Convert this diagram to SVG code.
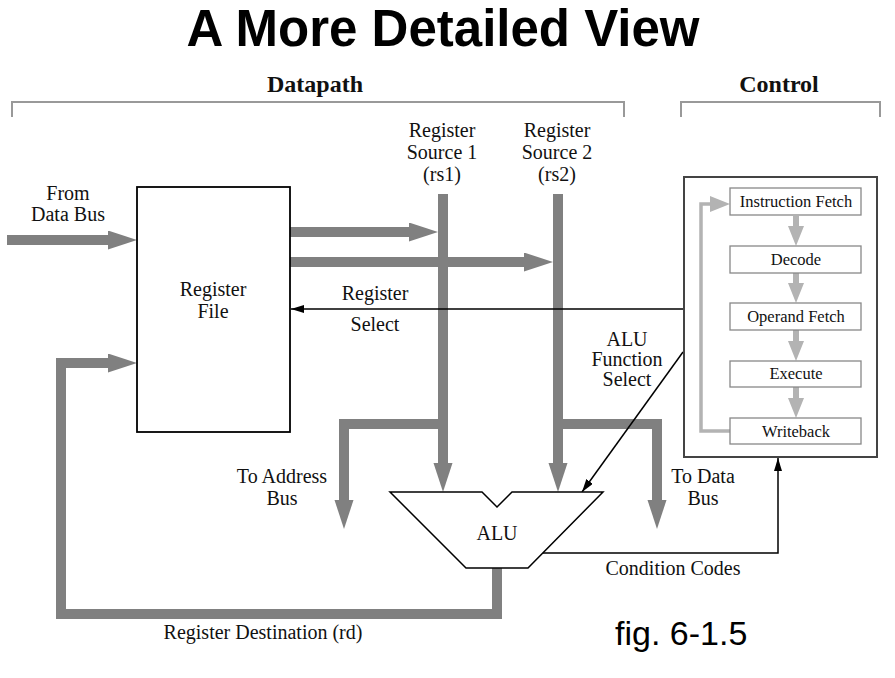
<svg xmlns="http://www.w3.org/2000/svg" width="895" height="678" viewBox="0 0 895 678">
<style>
.t{font-family:"Liberation Serif","Times New Roman",serif;fill:#111;text-anchor:middle;font-size:20px}
.s15{font-size:16.5px}
.hd{font-family:"Liberation Serif","Times New Roman",serif;font-weight:bold;font-size:24px;text-anchor:middle;fill:#111}
.bus{fill:none;stroke:#808080;stroke-width:10;stroke-linejoin:miter}
.thin{fill:none;stroke:#000;stroke-width:1.5}
.lg{fill:none;stroke:#b3b3b3}
.br{fill:none;stroke:#999;stroke-width:2}
.box{fill:#fff;stroke:#888;stroke-width:1.3}
</style>
<defs>
<marker id="bh" markerUnits="userSpaceOnUse" markerWidth="30" markerHeight="20" refX="0" refY="9.5" orient="auto"><path d="M0,0 L29,9.5 L0,19 z" fill="#808080"/></marker>
<marker id="th" markerUnits="userSpaceOnUse" markerWidth="14" markerHeight="9" refX="13" refY="4" orient="auto"><path d="M0,0 L13,4 L0,8 z" fill="#000"/></marker>
<marker id="gh" markerUnits="userSpaceOnUse" markerWidth="22" markerHeight="17" refX="0" refY="8" orient="auto"><path d="M0,0 L20,8 L0,16 z" fill="#b3b3b3"/></marker>
</defs>
<rect width="895" height="678" fill="#fff"/>
<text x="443" y="46" font-family="Liberation Sans,Arial,sans-serif" font-weight="bold" font-size="51" text-anchor="middle" fill="#000">A More Detailed View</text>
<g id="brackets" font-family="Liberation Serif,serif">
<path class="br" d="M12,117 V102 H624 V117"/>
<path class="br" d="M681,117 V102 H880 V117"/>
<text class="hd" x="315" y="92">Datapath</text>
<text class="hd" x="779" y="92">Control</text>
</g>
<g id="connectors">
<path class="bus" d="M7,240 H108" marker-end="url(#bh)"/>
<path class="bus" d="M290,232 H409" marker-end="url(#bh)"/>
<path class="bus" d="M290,262 H524" marker-end="url(#bh)"/>
<path class="bus" d="M497,568 V614 H61 V363 H108" marker-end="url(#bh)"/>
<path class="bus" d="M443,194 V463" marker-end="url(#bh)"/>
<path class="bus" d="M558,194 V463" marker-end="url(#bh)"/>
<path class="bus" d="M443,424 H344 V500" marker-end="url(#bh)"/>
<path class="bus" d="M558,424 H657 V500" marker-end="url(#bh)"/>
<path class="thin" d="M683,309 H291" marker-end="url(#th)"/>
<path class="thin" d="M683,352 L582,492" marker-end="url(#th)"/>
<path class="thin" d="M543,553 H778 V458" marker-end="url(#th)"/>
</g>
<g id="register-file" font-family="Liberation Serif,serif">
<rect x="137" y="187" width="153" height="245" fill="#fff" stroke="#000" stroke-width="1.8"/>
<text class="t" x="213" y="296">Register</text>
<text class="t" x="213" y="318">File</text>
</g>
<g id="alu" font-family="Liberation Serif,serif">
<path d="M390,492 H482 L497,507 L512,492 H603 L528,568 H466 Z" fill="#fff" stroke="#000" stroke-width="1.5"/>
<text class="t" x="497" y="540">ALU</text>
</g>
<g id="control" font-family="Liberation Serif,serif">
<rect x="684" y="177" width="193" height="280" fill="#fff" stroke="#444" stroke-width="2"/>
<path class="lg" stroke-width="3.5" d="M730,431 H701 V204 H710" marker-end="url(#gh)"/>
<path class="lg" stroke-width="6" d="M796,216 V226" marker-end="url(#gh)"/>
<path class="lg" stroke-width="6" d="M796,273 V283" marker-end="url(#gh)"/>
<path class="lg" stroke-width="6" d="M796,330 V341" marker-end="url(#gh)"/>
<path class="lg" stroke-width="6" d="M796,387 V398" marker-end="url(#gh)"/>
<g id="if"><rect class="box" x="730" y="188" width="131" height="27"/><text class="t s15" x="796" y="207">Instruction Fetch</text></g>
<g id="decode"><rect class="box" x="730" y="246" width="131" height="27"/><text class="t s15" x="796" y="265">Decode</text></g>
<g id="of"><rect class="box" x="730" y="303" width="131" height="27"/><text class="t s15" x="796" y="322">Operand Fetch</text></g>
<g id="ex"><rect class="box" x="730" y="361" width="131" height="26"/><text class="t s15" x="796" y="379">Execute</text></g>
<g id="wb"><rect class="box" x="730" y="418" width="131" height="26"/><text class="t s15" x="796" y="437">Writeback</text></g>
</g>
<g id="labels" font-family="Liberation Serif,serif">
<text class="t" x="68" y="200">From</text>
<text class="t" x="68" y="221">Data Bus</text>
<text class="t" x="442" y="137">Register</text>
<text class="t" x="442" y="159">Source 1</text>
<text class="t" x="442" y="181">(rs1)</text>
<text class="t" x="557" y="137">Register</text>
<text class="t" x="557" y="159">Source 2</text>
<text class="t" x="557" y="181">(rs2)</text>
<text class="t" x="375" y="300">Register</text>
<text class="t" x="375" y="331">Select</text>
<text class="t" x="627" y="346">ALU</text>
<text class="t" x="627" y="366">Function</text>
<text class="t" x="627" y="386">Select</text>
<text class="t" x="282" y="483">To Address</text>
<text class="t" x="282" y="505">Bus</text>
<text class="t" x="703" y="483">To Data</text>
<text class="t" x="703" y="505">Bus</text>
<text class="t" x="673" y="575">Condition Codes</text>
<text class="t" x="263" y="639">Register Destination (rd)</text>
<text x="615" y="645" font-family="Liberation Sans,Arial,sans-serif" font-size="34" fill="#000">fig. 6-1.5</text>
</g>
</svg>
